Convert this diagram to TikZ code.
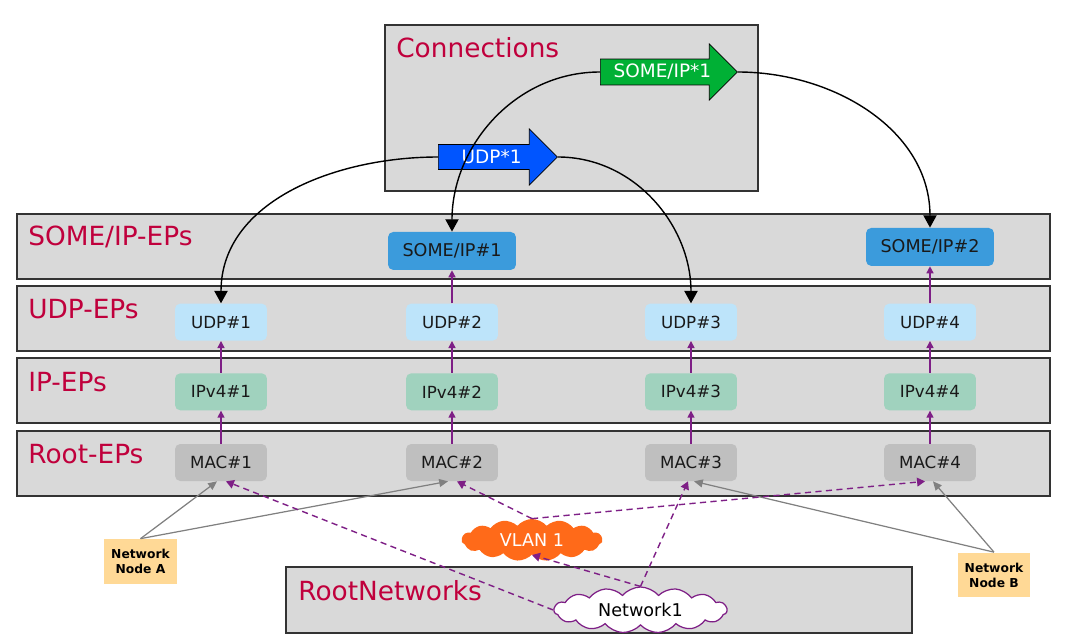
\documentclass[tikz,border=0pt]{standalone}
\usepackage{fontspec}
\setmainfont{DejaVu Sans}
\usetikzlibrary{shapes,arrows.meta,calc,positioning}

\definecolor{layerfill}{HTML}{D9D9D9}
\definecolor{layerline}{HTML}{333333}
\definecolor{layertext}{HTML}{C0003C}
\definecolor{someipblue}{HTML}{3B9BDC}
\definecolor{udpblue}{HTML}{BDE4FA}
\definecolor{ipgreen}{HTML}{A0D2BE}
\definecolor{macgray}{HTML}{BFBFBF}
\definecolor{linkpurple}{HTML}{7E1F86}
\definecolor{hostorange}{HTML}{FFD996}
\definecolor{vlanorange}{HTML}{FF6A19}
\definecolor{conngreen}{HTML}{00B035}
\definecolor{connblue}{HTML}{0055FF}

\begin{document}
\begin{tikzpicture}[x=0.02cm,y=-0.02cm,
  layer/.style={draw=layerline,fill=layerfill,line width=0.8pt},
  layername/.style={anchor=base west,text=layertext,inner sep=0pt,font=\fontsize{15}{18}\selectfont},
  ep/.style={rectangle,rounded corners=3pt,minimum width=1.84cm,minimum height=0.74cm,inner sep=0pt,text=black!90,font=\fontsize{9.5}{11}\selectfont},
  mac/.style={ep,fill=macgray},
  ipv4/.style={ep,fill=ipgreen},
  udp/.style={ep,fill=udpblue},
  someip/.style={ep,fill=someipblue,minimum width=2.56cm,minimum height=0.76cm,font=\fontsize{10}{12}\selectfont},
  conn/.style={single arrow,draw=black,line width=0.4pt,text=white,anchor=tail,single arrow head extend=0.27cm,minimum width=1.12cm,inner sep=2pt,font=\fontsize{10.5}{12}\selectfont},
  hostnode/.style={rectangle,fill=hostorange,minimum width=1.46cm,minimum height=0.9cm,inner sep=1pt,align=center,font=\bfseries\fontsize{7}{8.5}\selectfont},
  netcloud/.style={cloud,cloud puffs=15,cloud puff arc=100,aspect=3.4,inner sep=0pt,minimum height=0.84cm,font=\fontsize{10}{12}\selectfont},
  stack/.style={draw=linkpurple,line width=0.8pt,-{Triangle[length=4pt,width=4pt]}},
  assign/.style={draw=black,line width=0.8pt,-{Triangle[length=7pt,width=7.5pt]}},
  hostlink/.style={draw=gray,line width=0.7pt,-{Triangle[length=5pt,width=4.5pt]}},
  netlink/.style={draw=linkpurple,line width=0.8pt,dash pattern=on 3.5pt off 2.5pt,-{Triangle[length=4.5pt,width=5pt]}}]

  \useasboundingbox (0,0) rectangle (1080,636);

  % layers
  \draw[layer] (385,25) rectangle (758,191);
  \draw[layer] (17,214) rectangle (1050,279);
  \draw[layer] (17,286) rectangle (1050,351);
  \draw[layer] (17,358) rectangle (1050,423);
  \draw[layer] (17,431) rectangle (1050,496);
  \draw[layer] (286,567) rectangle (912,633);

  \node[layername] (lconn) at (396,57) {Connections};
  \node[layername] (lsomeip) at (28,245) {SOME/IP-EPs};
  \node[layername] (ludp) at (28,318) {UDP-EPs};
  \node[layername] (lip) at (28,391) {IP-EPs};
  \node[layername] (lroot) at (28,463) {Root-EPs};
  \node[layername] (lnet) at (298,600) {RootNetworks};

  % endpoints
  \node[mac] (mac1) at (221,462.5) {MAC\#1};
  \node[mac] (mac2) at (452,462.5) {MAC\#2};
  \node[mac] (mac3) at (691,462.5) {MAC\#3};
  \node[mac] (mac4) at (930,462.5) {MAC\#4};

  \node[ipv4] (ip1) [above=0.66cm of mac1] {IPv4\#1};
  \node[ipv4] (ip2) [above=0.66cm of mac2] {IPv4\#2};
  \node[ipv4] (ip3) [above=0.66cm of mac3] {IPv4\#3};
  \node[ipv4] (ip4) [above=0.66cm of mac4] {IPv4\#4};

  \node[udp] (udp1) [above=0.64cm of ip1] {UDP\#1};
  \node[udp] (udp2) [above=0.64cm of ip2] {UDP\#2};
  \node[udp] (udp3) [above=0.64cm of ip3] {UDP\#3};
  \node[udp] (udp4) [above=0.64cm of ip4] {UDP\#4};

  \node[someip] (someip1) [above=0.66cm of udp2] {SOME/IP\#1};
  \node[someip] (someip2) [above=0.74cm of udp4] {SOME/IP\#2};

  % connections
  \node[conn,fill=conngreen,minimum height=2.74cm] (sipconn) at (600,72) {SOME/IP*1};
  \node[conn,fill=connblue,minimum height=2.38cm] (udpconn) at (438,157) {UDP*1};

  % networks
  \node[hostnode] (hosta) at (140.5,561.5) {Network\\Node A};
  \node[hostnode] (hostb) at (994,575) {Network\\Node B};
  \node[netcloud,fill=vlanorange,text=white,minimum width=2.82cm] (vlan) at (532,540) {VLAN 1};
  \node[netcloud,draw=linkpurple,fill=white,line width=0.7pt,minimum width=3.46cm] (net1) at (640.5,610) {Network1};

  \draw[stack] (mac1) -- (ip1);
  \draw[stack] (mac2) -- (ip2);
  \draw[stack] (mac3) -- (ip3);
  \draw[stack] (mac4) -- (ip4);
  \draw[stack] (ip1) -- (udp1);
  \draw[stack] (ip2) -- (udp2);
  \draw[stack] (ip3) -- (udp3);
  \draw[stack] (ip4) -- (udp4);
  \draw[stack] (udp2) -- (someip1);
  \draw[stack] (udp4) -- (someip2);

  \draw[assign] (sipconn.tail) to[out=180,in=90] (someip1.north);
  \draw[assign] (sipconn.tip) to[out=0,in=90] (someip2.north);
  \draw[assign] (udpconn.tail) to[out=180,in=90] (udp1.north);
  \draw[assign] (udpconn.tip) to[out=0,in=90] (udp3.north);

  \draw[hostlink] (hosta.north) -- ($(mac1.south)+(-4,0)$);
  \draw[hostlink] (hosta.north) -- ($(mac2.south)+(-4,0)$);
  \draw[hostlink] (hostb.north) -- ($(mac3.south)+(3,0)$);
  \draw[hostlink] (hostb.north) -- ($(mac4.south)+(3,0)$);

  \draw[netlink] (net1.west) -- ($(mac1.south)+(5,0)$);
  \draw[netlink] (net1.north) -- (vlan.south);
  \draw[netlink] (net1.north) -- ($(mac3.south)+(-3,0)$);
  \draw[netlink] (vlan.north) -- ($(mac2.south)+(5,0)$);
  \draw[netlink] (vlan.north) -- ($(mac4.south)+(-5,0)$);
\end{tikzpicture}
\end{document}
